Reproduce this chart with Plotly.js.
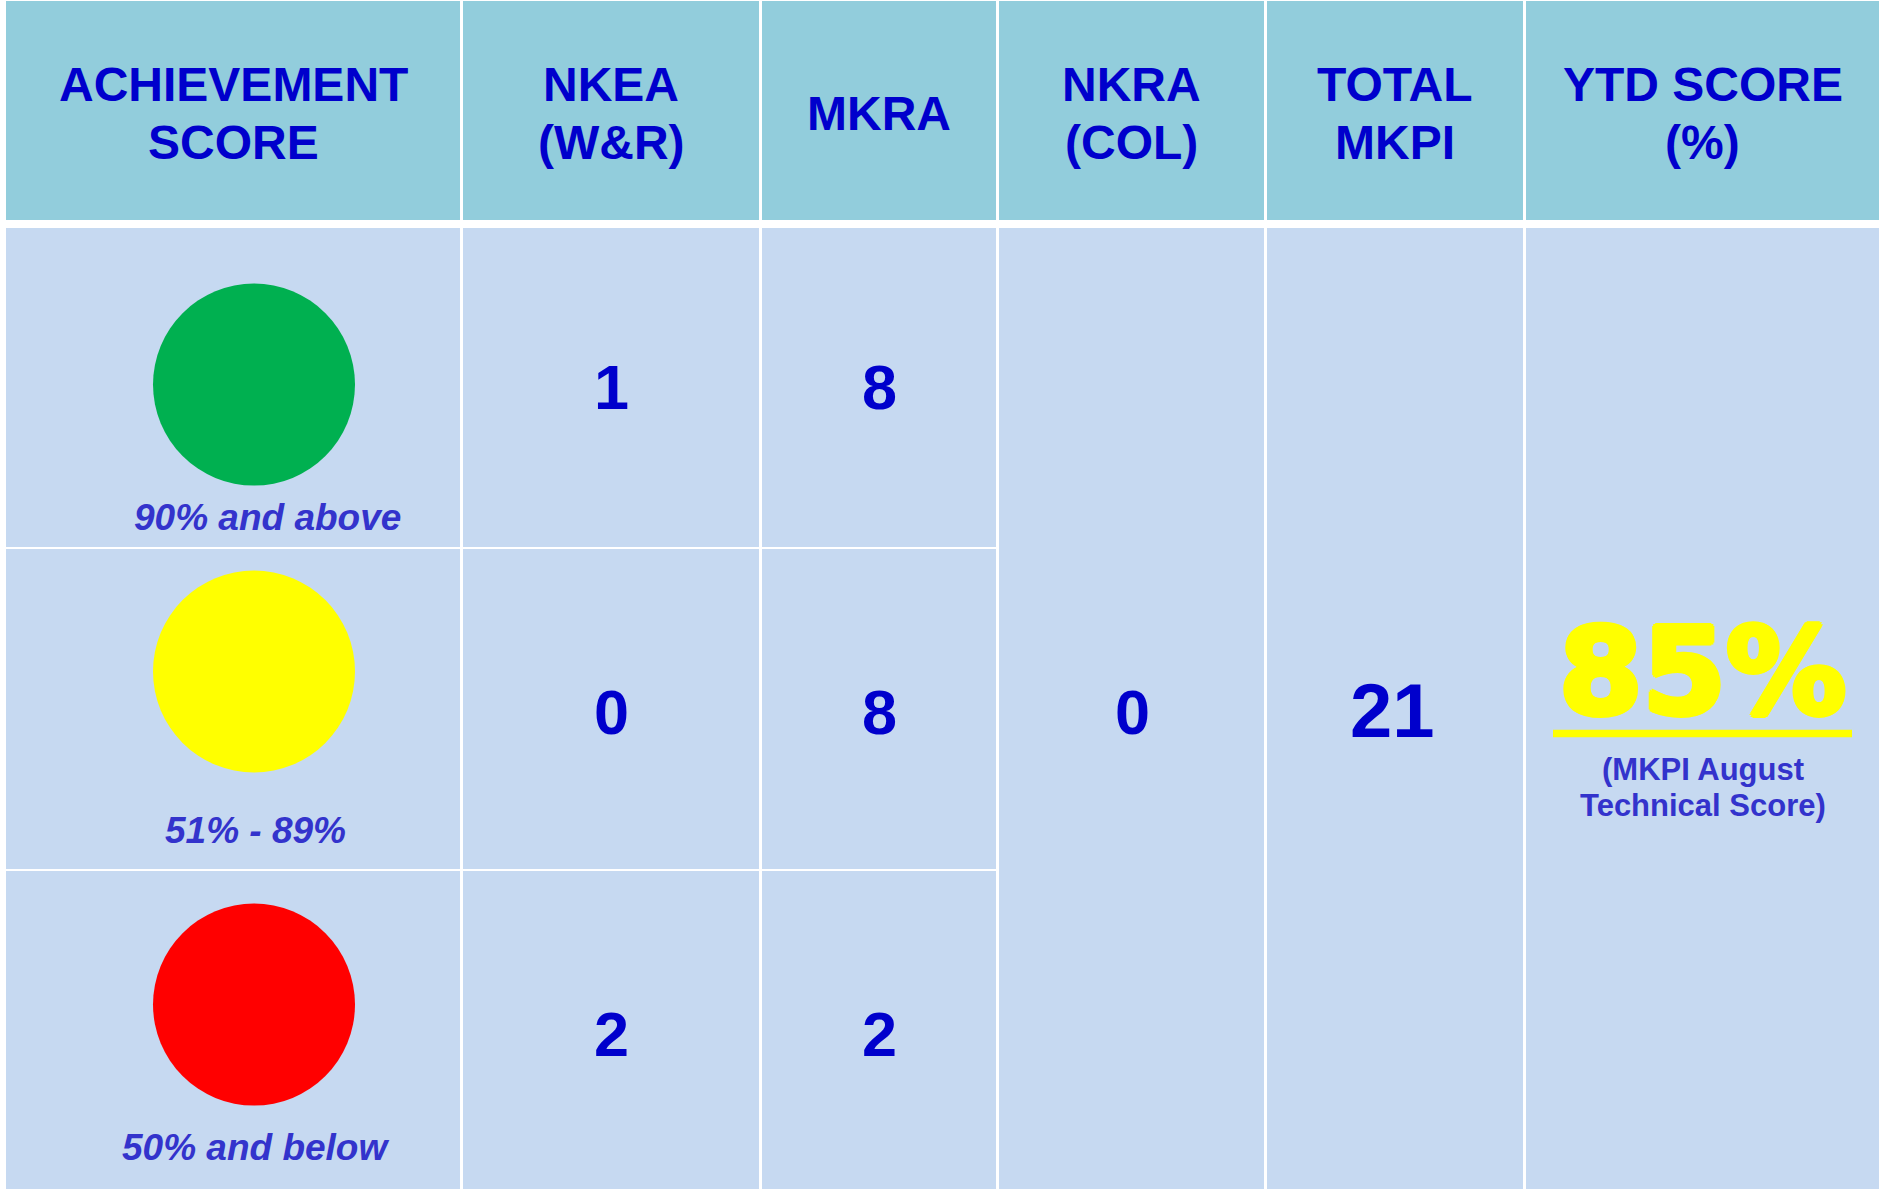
<!DOCTYPE html>
<html><head><meta charset="utf-8">
<script src="https://cdn.plot.ly/plotly-3.0.1.min.js"></script>
<style>html,body{margin:0;padding:0;background:#fff;overflow:hidden}#chart{width:1879px;height:1189px}</style>
</head><body><div id="chart"></div>
<script>
// ---------------- data ----------------
const headers = [["ACHIEVEMENT","SCORE"],["NKEA","(W&R)"],["MKRA"],["NKRA","(COL)"],["TOTAL","MKPI"],["YTD SCORE","(%)"]];
const bandLabels = ["90% and above","51% - 89%","50% and below"];
const bandColors = ["#00B050","#FFFF00","#FF0000"];
const nkeaWR = [1,0,2];
const mkra = [8,8,2];
const nkraCol = 0;
const totalMkpi = 21;
const ytdScore = 85;
const ytdNote = ["(MKPI August","Technical Score)"];

// ---------------- layout geometry ----------------
const W = 1879, H = 1189;
const colX = [[6,460],[463,759],[762,996],[999,1264],[1267,1523],[1526,1879]];
const headerY = [1,220];
const rowY = [[228,547],[549,869],[871,1189]];
const mergedY = [228,1189];
const HEADER_BG = "#92CDDC", BODY_BG = "#C6D9F1";
const DARK = "#0000CC", LABEL = "#3333CC", YELLOW = "#FFFF00";
const FONT = "Liberation Sans, Arial, sans-serif";

const cx = i => (colX[i][0]+colX[i][1])/2;
const shapes = [];
const annotations = [];

// header cells
colX.forEach((c,i)=>{
  shapes.push({type:"rect",layer:"below",xref:"x",yref:"y",x0:c[0],x1:c[1],y0:headerY[0],y1:headerY[1],fillcolor:HEADER_BG,line:{width:0}});
  const lines = headers[i];
  const ys = lines.length===2 ? [84,142] : [113];
  lines.forEach((t,k)=>annotations.push({x:cx(i),y:ys[k],xref:"x",yref:"y",text:t,showarrow:false,xanchor:"center",yanchor:"middle",
    font:{family:FONT,size:48,color:DARK,weight:"bold"}}));
});
// body cells: first three columns split by rows
for(let i=0;i<3;i++) rowY.forEach(r=>shapes.push({type:"rect",layer:"below",xref:"x",yref:"y",x0:colX[i][0],x1:colX[i][1],y0:r[0],y1:r[1],fillcolor:BODY_BG,line:{width:0}}));
// merged columns
for(let i=3;i<6;i++) shapes.push({type:"rect",layer:"below",xref:"x",yref:"y",x0:colX[i][0],x1:colX[i][1],y0:mergedY[0],y1:mergedY[1],fillcolor:BODY_BG,line:{width:0}});

// status circles & labels
const circleX = 254, circleY = [384.6,671.5,1004.6];
const labelX = [267,255,255], labelY = [517,830,1147];
const numY = [387,711.5,1034];

bandLabels.forEach((t,k)=>annotations.push({x:labelX[k],y:labelY[k],xref:"x",yref:"y",text:"<i>"+t+"</i>",showarrow:false,xanchor:"center",yanchor:"middle",
  font:{family:FONT,size:37,color:LABEL,weight:"bold"}}));
nkeaWR.forEach((v,k)=>annotations.push({x:cx(1),y:numY[k],xref:"x",yref:"y",text:String(v),showarrow:false,xanchor:"center",yanchor:"middle",
  font:{family:FONT,size:63,color:DARK,weight:"bold"}}));
mkra.forEach((v,k)=>annotations.push({x:cx(2),y:numY[k],xref:"x",yref:"y",text:String(v),showarrow:false,xanchor:"center",yanchor:"middle",
  font:{family:FONT,size:63,color:DARK,weight:"bold"}}));
annotations.push({x:cx(3)+1,y:711.5,xref:"x",yref:"y",text:String(nkraCol),showarrow:false,xanchor:"center",yanchor:"middle",
  font:{family:FONT,size:63,color:DARK,weight:"bold"}});
annotations.push({x:cx(4)-3,y:710.5,xref:"x",yref:"y",text:String(totalMkpi),showarrow:false,xanchor:"center",yanchor:"middle",
  font:{family:FONT,size:76,color:DARK,weight:"bold"}});

// YTD score, heavy
const heavy = ["3px 0 0","-3px 0 0","0 3px 0","0 -3px 0","2px 2px 0","-2px 2px 0","2px -2px 0","-2px -2px 0"].map(s=>s+" "+YELLOW).join(", ");
annotations.push({x:1702,y:671,xref:"x",yref:"y",text:ytdScore+"%",showarrow:false,xanchor:"center",yanchor:"middle",
  font:{family:"DejaVu Sans, Liberation Sans, sans-serif",size:120,color:YELLOW,weight:"bold",shadow:heavy}});
shapes.push({type:"line",xref:"x",yref:"y",x0:1553,x1:1852,y0:733.6,y1:733.6,line:{color:YELLOW,width:7.5}});
const noteY=[769,805.5];
ytdNote.forEach((t,k)=>annotations.push({x:1703,y:noteY[k],xref:"x",yref:"y",text:t,showarrow:false,xanchor:"center",yanchor:"middle",
  font:{family:FONT,size:31,color:LABEL,weight:"bold"}}));

const trace = {type:"scatter",mode:"markers",x:bandColors.map(()=>circleX),y:circleY,
  marker:{size:202,color:bandColors,line:{width:0},opacity:1},hoverinfo:"skip",cliponaxis:false,showlegend:false};

const layout = {width:W,height:H,margin:{l:0,r:0,t:0,b:0,pad:0},paper_bgcolor:"#FFFFFF",plot_bgcolor:"#FFFFFF",
  xaxis:{range:[0,W],visible:false,fixedrange:true},
  yaxis:{range:[H,0],visible:false,fixedrange:true},
  shapes:shapes,annotations:annotations,showlegend:false};
Plotly.newPlot("chart",[trace],layout,{displayModeBar:false,staticPlot:true});
</script></body></html>
